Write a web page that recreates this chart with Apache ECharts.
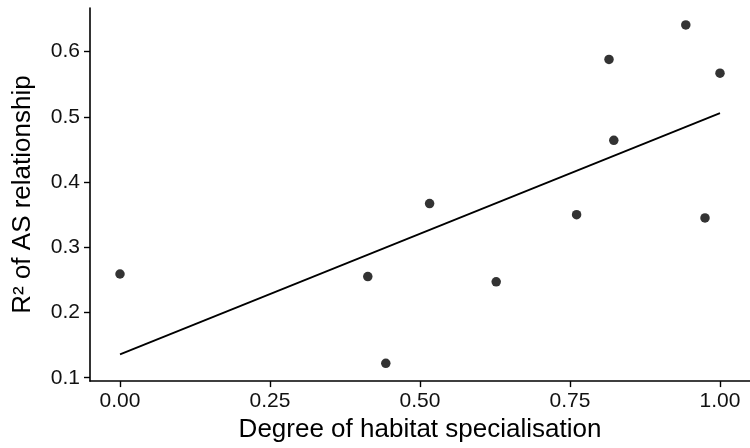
<!DOCTYPE html>
<html>
<head>
<meta charset="utf-8">
<script src="https://cdn.jsdelivr.net/npm/echarts@6/dist/echarts.min.js"></script>
<style>
html,body{margin:0;padding:0;background:#fff;}
#chart{width:750px;height:448px;}
</style>
</head>
<body>
<div id="chart"></div>
<script>
// Data
const specialisation = [0.000, 0.413, 0.443, 0.516, 0.627, 0.761, 0.815, 0.823, 0.943, 0.975, 1.000];
const r2AS = [0.259, 0.255, 0.122, 0.367, 0.247, 0.350, 0.588, 0.464, 0.641, 0.345, 0.567];
// Fitted regression line endpoints
const fitX = [0.0, 1.0];
const fitY = [0.1357, 0.5057];
// Tick values
const xTicks = [0, 0.25, 0.5, 0.75, 1.0];
const yTicks = [0.1, 0.2, 0.3, 0.4, 0.5, 0.6];
// Axis ranges
const xRange = [-0.05, 1.05];
const yRange = [0.0948, 0.6669];

const FONT = "'Liberation Sans', Arial, sans-serif";
const chart = echarts.init(document.getElementById('chart'), null, {renderer: 'canvas'});

const points = specialisation.map((x, i) => [x, r2AS[i]]);
const fit = fitX.map((x, i) => [x, fitY[i]]);

const axisCommon = {
  axisLine: {show: true, onZero: false, lineStyle: {color: '#000', width: 1.6}},
  axisTick: {show: true, length: 6, lineStyle: {color: '#000', width: 1.4}},
  splitLine: {show: false},
  nameTextStyle: {fontFamily: FONT, fontSize: 26, color: '#000'}
};

chart.setOption({
  animation: false,
  backgroundColor: '#fff',
  grid: {left: 90, top: 8, width: 666.3, height: 373.7, containLabel: false},
  xAxis: Object.assign({}, axisCommon, {
    type: 'value',
    min: xRange[0], max: xRange[1],
    name: 'Degree of habitat specialisation',
    nameLocation: 'middle',
    nameGap: 34,
    axisTick: Object.assign({}, axisCommon.axisTick, {customValues: xTicks}),
    axisLabel: {
      customValues: xTicks,
      margin: 10,
      fontFamily: FONT, fontSize: 21, color: '#111',
      formatter: v => v.toFixed(2)
    }
  }),
  yAxis: Object.assign({}, axisCommon, {
    type: 'value',
    min: yRange[0], max: yRange[1],
    name: 'R² of AS relationship',
    nameLocation: 'middle',
    nameGap: 54,
    axisTick: Object.assign({}, axisCommon.axisTick, {customValues: yTicks}),
    axisLabel: {
      customValues: yTicks,
      margin: 10,
      fontFamily: FONT, fontSize: 21, color: '#111',
      formatter: v => v.toFixed(1)
    }
  }),
  series: [
    {
      type: 'line',
      data: fit,
      symbol: 'none',
      lineStyle: {color: '#000', width: 1.8},
      silent: true,
      z: 2
    },
    {
      type: 'scatter',
      data: points,
      symbol: 'circle',
      symbolSize: 9.5,
      itemStyle: {color: '#000'},
      z: 3
    }
  ]
});
</script>
</body>
</html>
